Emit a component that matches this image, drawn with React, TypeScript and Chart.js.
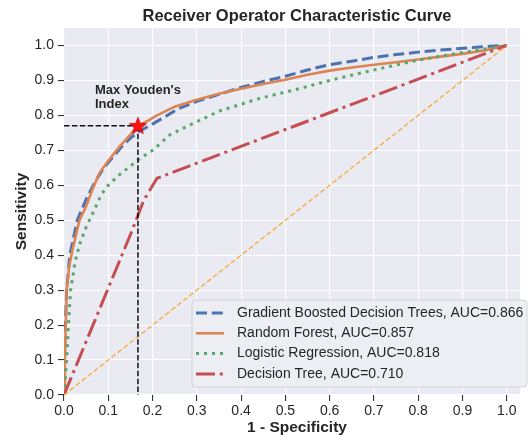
import { useEffect, useRef } from "react";
import { Chart, registerables } from "chart.js";

Chart.register(...registerables);

// ---------- data ----------
const modelNames = [
  "Gradient Boosted Decision Trees",
  "Random Forest",
  "Logistic Regression",
  "Decision Tree",
];
const aucValues = ["0.866", "0.857", "0.818", "0.710"];

const gbdtFpr = [0, 0, 0.003, 0.006, 0.013, 0.03, 0.05, 0.07, 0.09, 0.11, 0.13, 0.15, 0.17, 0.19, 0.22, 0.26, 0.3, 0.35, 0.4, 0.45, 0.5, 0.55, 0.6, 0.65, 0.7, 0.75, 0.8, 0.85, 0.9, 0.95, 1];
const gbdtTpr = [0, 0.1, 0.2, 0.3, 0.4, 0.5, 0.56, 0.61, 0.65, 0.68, 0.71, 0.735, 0.755, 0.768, 0.79, 0.82, 0.84, 0.86, 0.88, 0.897, 0.912, 0.93, 0.945, 0.955, 0.966, 0.974, 0.981, 0.987, 0.992, 0.997, 1];

const rfFpr = [0, 0.002, 0.004, 0.006, 0.012, 0.02, 0.035, 0.05, 0.065, 0.08, 0.1, 0.125, 0.15, 0.167, 0.19, 0.21, 0.25, 0.3, 0.35, 0.4, 0.45, 0.5, 0.55, 0.6, 0.65, 0.7, 0.75, 0.8, 0.85, 0.9, 0.95, 1];
const rfTpr = [0, 0.1, 0.2, 0.3, 0.37, 0.42, 0.5, 0.54, 0.59, 0.635, 0.67, 0.71, 0.745, 0.77, 0.785, 0.8, 0.825, 0.845, 0.862, 0.876, 0.89, 0.902, 0.916, 0.928, 0.937, 0.945, 0.952, 0.96, 0.968, 0.976, 0.986, 1];

const lrFpr = [0, 0.003, 0.006, 0.01, 0.015, 0.025, 0.035, 0.05, 0.065, 0.085, 0.1, 0.125, 0.15, 0.17, 0.2, 0.24, 0.28, 0.35, 0.44, 0.53, 0.6, 0.7, 0.8, 0.9, 0.95, 1];
const lrTpr = [0, 0.05, 0.1, 0.2, 0.3, 0.38, 0.43, 0.48, 0.52, 0.575, 0.6, 0.63, 0.655, 0.675, 0.7, 0.745, 0.77, 0.812, 0.848, 0.876, 0.9, 0.93, 0.958, 0.98, 0.99, 1];

const dtFpr = [0, 0.154, 0.18, 0.21, 1];
const dtTpr = [0, 0.471, 0.557, 0.62, 1];

const chanceFpr = [0, 1];
const chanceTpr = [0, 1];

const youdenFpr = 0.167;
const youdenTpr = 0.77;

const axisTicks = [0, 0.1, 0.2, 0.3, 0.4, 0.5, 0.6, 0.7, 0.8, 0.9, 1.0];

// ---------- style ----------
const FONT = '"Liberation Sans", Arial, Helvetica, sans-serif';
const TEXT = "#262626";
const W = 531;
const H = 442;

const zip = (xs: number[], ys: number[]) => xs.map((x, i) => ({ x, y: ys[i] }));

function makeStar(): HTMLCanvasElement {
  const c = document.createElement("canvas");
  c.width = 22;
  c.height = 22;
  const g = c.getContext("2d")!;
  const cx = 11, cy = 11.5, R = 9, r = 3.8;
  g.beginPath();
  for (let i = 0; i < 10; i++) {
    const ang = -Math.PI / 2 + (i * Math.PI) / 5;
    const rad = i % 2 === 0 ? R : r;
    g.lineTo(cx + rad * Math.cos(ang), cy + rad * Math.sin(ang));
  }
  g.closePath();
  g.fillStyle = "#ff1010";
  g.fill();
  g.strokeStyle = "#b00000";
  g.lineWidth = 0.7;
  g.stroke();
  return c;
}

const decorPlugin = {
  id: "decor",
  beforeDraw(chart: any) {
    const { ctx, chartArea: a } = chart;
    ctx.save();
    ctx.fillStyle = "#EAEAF2";
    ctx.fillRect(a.left, a.top, a.right - a.left, a.bottom - a.top);
    ctx.restore();
  },
  afterDraw(chart: any) {
    const { ctx, chartArea: a } = chart;
    ctx.save();
    ctx.fillStyle = TEXT;
    // title
    ctx.font = `bold 16.5px ${FONT}`;
    ctx.textAlign = "center";
    ctx.textBaseline = "middle";
    ctx.fillText("Receiver Operator Characteristic Curve", 297, 16);
    // axis titles
    ctx.font = `bold 15.5px ${FONT}`;
    ctx.fillText("1 - Specificity", 297, 428);
    ctx.save();
    ctx.translate(22, (a.top + a.bottom) / 2);
    ctx.rotate(-Math.PI / 2);
    ctx.fillText("Sensitivity", 0, 0);
    ctx.restore();
    // annotation
    ctx.font = `bold 13px ${FONT}`;
    ctx.textAlign = "left";
    ctx.fillText("Max Youden's", 95, 90);
    ctx.fillText("Index", 95, 104);

    // legend
    const bx = 192, by = 300, bw = 335, bh = 87, rr = 4;
    ctx.beginPath();
    ctx.moveTo(bx + rr, by);
    ctx.lineTo(bx + bw - rr, by);
    ctx.quadraticCurveTo(bx + bw, by, bx + bw, by + rr);
    ctx.lineTo(bx + bw, by + bh - rr);
    ctx.quadraticCurveTo(bx + bw, by + bh, bx + bw - rr, by + bh);
    ctx.lineTo(bx + rr, by + bh);
    ctx.quadraticCurveTo(bx, by + bh, bx, by + bh - rr);
    ctx.lineTo(bx, by + rr);
    ctx.quadraticCurveTo(bx, by, bx + rr, by);
    ctx.closePath();
    ctx.fillStyle = "rgba(237,237,244,0.92)";
    ctx.fill();
    ctx.strokeStyle = "#d2d2da";
    ctx.lineWidth = 1;
    ctx.stroke();

    ctx.font = `14px ${FONT}`;
    ctx.textBaseline = "middle";
    modelNames.forEach((name, i) => {
      const ds = chart.data.datasets[i];
      const y = 313 + i * 20.3;
      ctx.save();
      ctx.strokeStyle = ds.borderColor;
      ctx.lineWidth = ds.borderWidth;
      ctx.setLineDash(ds.borderDash || []);
      ctx.beginPath();
      ctx.moveTo(196, y);
      ctx.lineTo(224, y);
      ctx.stroke();
      ctx.restore();
      ctx.fillStyle = TEXT;
      ctx.fillText(`${name}, AUC=${aucValues[i]}`, 237, y);
    });
    ctx.restore();
  },
};

export default function App() {
  const ref = useRef<HTMLCanvasElement>(null);

  useEffect(() => {
    if (!ref.current) return;
    const star = makeStar();
    const common = { pointRadius: 0, pointHoverRadius: 0, tension: 0, fill: false };
    const chart = new Chart(ref.current, {
      type: "line",
      data: {
        datasets: [
          { ...common, label: modelNames[0], data: zip(gbdtFpr, gbdtTpr), borderColor: "#4C72B0", borderWidth: 3, borderDash: [11, 4.8], order: 7 },
          { ...common, label: modelNames[1], data: zip(rfFpr, rfTpr), borderColor: "#DD8452", borderWidth: 2.6, order: 6 },
          { ...common, label: modelNames[2], data: zip(lrFpr, lrTpr), borderColor: "#55A868", borderWidth: 3, borderDash: [3, 5], order: 5 },
          { ...common, label: modelNames[3], data: zip(dtFpr, dtTpr), borderColor: "#C44E52", borderWidth: 3, borderDash: [19, 4.8, 3, 4.8], order: 4 },
          { ...common, label: "chance", data: zip(chanceFpr, chanceTpr), borderColor: "#F7A933", borderWidth: 1.3, borderDash: [5, 2.6], order: 3 },
          { ...common, label: "youdenH", data: [{ x: 0, y: youdenTpr }, { x: youdenFpr, y: youdenTpr }], borderColor: "#111111", borderWidth: 1.5, borderDash: [5.5, 2.4], order: 2 },
          { ...common, label: "youdenV", data: [{ x: youdenFpr, y: youdenTpr }, { x: youdenFpr, y: 0 }], borderColor: "#111111", borderWidth: 1.5, borderDash: [5.5, 2.4], order: 2 },
          { label: "star", data: [{ x: youdenFpr, y: youdenTpr }], showLine: false, pointStyle: star as any, pointRadius: 10, pointHoverRadius: 10, order: 0 },
        ] as any,
      },
      options: {
        responsive: false,
        animation: false,
        devicePixelRatio: 1,
        events: [],
        layout: { padding: { top: 28, right: 0, left: 0, bottom: 0 } },
        plugins: { legend: { display: false }, title: { display: false }, tooltip: { enabled: false } },
        scales: {
          x: {
            type: "linear",
            min: 0,
            max: 1.03,
            afterFit: (s: any) => { s.height = 47; s.paddingLeft = 0; s.paddingRight = 0; s.paddingTop = 0; s.paddingBottom = 0; },
            afterBuildTicks: (s: any) => { s.ticks = axisTicks.map((v) => ({ value: v })); },
            ticks: { callback: (v: any) => Number(v).toFixed(1), color: TEXT, font: { family: FONT, size: 14 }, padding: 2, maxRotation: 0, autoSkip: false },
            grid: { color: "#ffffff", lineWidth: 1.1, tickColor: "#333333", tickLength: 6, tickWidth: 1.1 },
            border: { display: false },
          },
          y: {
            type: "linear",
            min: 0,
            max: 1.05,
            afterFit: (s: any) => { s.width = 64; s.paddingLeft = 0; s.paddingRight = 0; s.paddingTop = 0; s.paddingBottom = 0; },
            afterBuildTicks: (s: any) => { s.ticks = axisTicks.map((v) => ({ value: v })); },
            ticks: { callback: (v: any) => Number(v).toFixed(1), color: TEXT, font: { family: FONT, size: 14 }, padding: 4, autoSkip: false },
            grid: { color: "#ffffff", lineWidth: 1.1, tickColor: "#333333", tickLength: 6, tickWidth: 1.1 },
            border: { display: false },
          },
        },
      } as any,
      plugins: [decorPlugin],
    });
    return () => chart.destroy();
  }, []);

  return (
    <div style={{ position: "fixed", left: 0, top: 0, width: W, height: H, background: "#ffffff" }}>
      <canvas ref={ref} width={W} height={H} style={{ display: "block" }} />
    </div>
  );
}
